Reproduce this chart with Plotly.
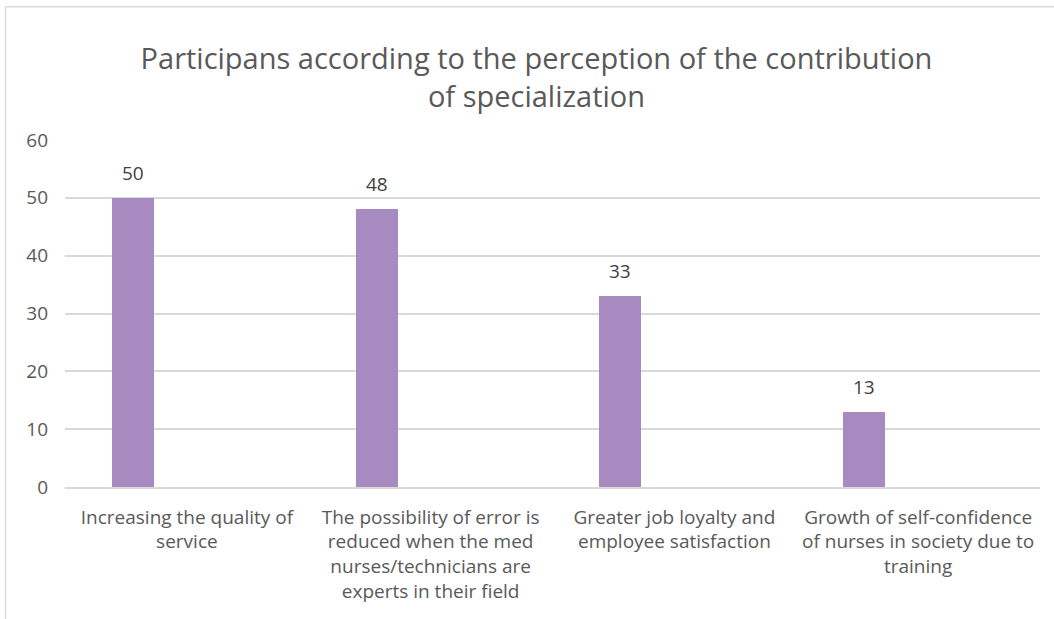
import plotly.graph_objects as go

# Chart data
categories = [
    "Increasing the quality of<br>service",
    "The possibility of error is<br>reduced when the med<br>nurses/technicians are<br>experts in their field",
    "Greater job loyalty and<br>employee satisfaction",
    "Growth of self-confidence<br>of nurses in society due to<br>training",
]
values = [50, 48, 33, 13]
y_ticks = [0, 10, 20, 30, 40, 50, 60]

title_text = "Participans according to the perception of the contribution<br>of specialization"

BAR_COLOR = "#A78AC0"
GRID_COLOR = "#D9D9D9"
TEXT_COLOR = "#595959"
LABEL_COLOR = "#404040"
FONT = "Open Sans"

# bars sit in the left part of each category slot
bar_width = 0.173
bar_offset = -0.308

fig = go.Figure()
fig.add_trace(go.Bar(
    x=list(range(len(categories))),
    y=values,
    width=bar_width,
    offset=bar_offset,
    marker=dict(color=BAR_COLOR, line=dict(width=0)),
    hoverinfo="skip",
))

# value labels above each bar
for i, v in enumerate(values):
    fig.add_annotation(
        x=i + bar_offset + bar_width / 2, y=v, xref="x", yref="y",
        text=str(v), showarrow=False, yanchor="bottom", yshift=10,
        font=dict(family=FONT, size=19, color=LABEL_COLOR),
    )

# light frame along the top and left edges of the chart area
frame = dict(color=GRID_COLOR, width=1.5)
fig.add_shape(type="line", xref="paper", yref="paper",
              x0=-0.061, x1=1.03, y0=1.384, y1=1.384, line=frame)
fig.add_shape(type="line", xref="paper", yref="paper",
              x0=-0.061, x1=-0.061, y0=1.384, y1=-0.4, line=frame)

fig.update_layout(
    width=1054, height=619,
    margin=dict(l=65, r=14, t=140, b=132),
    paper_bgcolor="white", plot_bgcolor="white",
    showlegend=False,
    title=dict(
        text=title_text, x=0.509, xanchor="center", y=0.888, yanchor="top",
        font=dict(family=FONT, size=29, color=TEXT_COLOR),
    ),
    font=dict(family=FONT, size=19, color=TEXT_COLOR),
    xaxis=dict(
        tickmode="array",
        tickvals=list(range(len(categories))),
        ticktext=categories,
        range=[-0.5, len(categories) - 0.5],
        showgrid=False, zeroline=False,
        showline=True, linecolor=GRID_COLOR, linewidth=1.5,
        ticks="", ticklabelstandoff=12,
        tickfont=dict(family=FONT, size=19, color=TEXT_COLOR),
    ),
    yaxis=dict(
        range=[0, 60],
        tickmode="array", tickvals=y_ticks,
        showgrid=True, gridcolor=GRID_COLOR, gridwidth=1.5,
        zeroline=False, showline=False,
        ticks="", ticklabelstandoff=16,
        tickfont=dict(family=FONT, size=19, color=TEXT_COLOR),
    ),
    bargap=0,
)

fig.write_html("out.html")
